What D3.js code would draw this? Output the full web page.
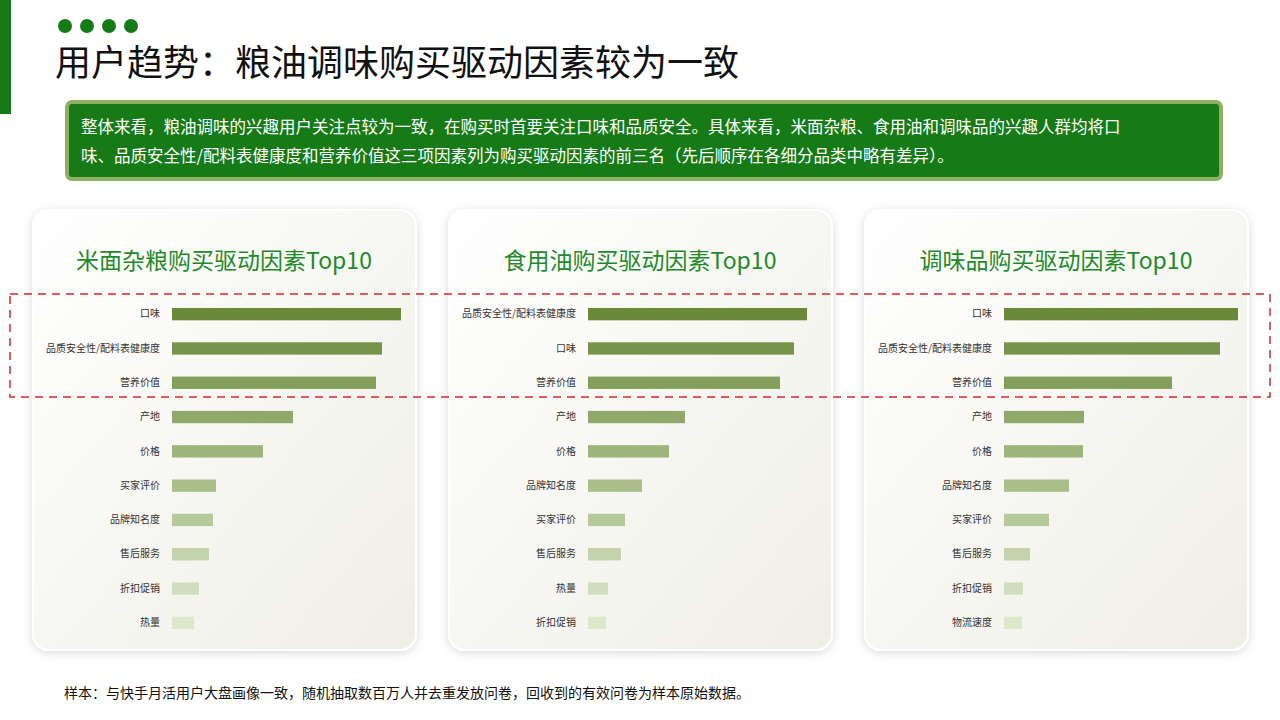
<!DOCTYPE html>
<html lang="zh">
<head>
<meta charset="UTF-8">
<script src="https://d3js.org/d3.v7.min.js"></script>
<style>
  body { margin: 0; background: #fff; font-family: "Noto Sans CJK SC", "Noto Sans", sans-serif; }
</style>
</head>
<body>
<script>
  var titles = ["米面杂粮购买驱动因素Top10", "食用油购买驱动因素Top10", "调味品购买驱动因素Top10"];
  var cats1 = ["口味", "品质安全性/配料表健康度", "营养价值", "产地", "价格", "买家评价", "品牌知名度", "售后服务", "折扣促销", "热量"];
  var vals1 = [229, 210, 204, 121, 91, 44, 41, 37, 27, 22];
  var cats2 = ["品质安全性/配料表健康度", "口味", "营养价值", "产地", "价格", "品牌知名度", "买家评价", "售后服务", "热量", "折扣促销"];
  var vals2 = [219, 206, 192, 97, 81, 54, 37, 33, 20, 18];
  var cats3 = ["口味", "品质安全性/配料表健康度", "营养价值", "产地", "价格", "品牌知名度", "买家评价", "售后服务", "折扣促销", "物流速度"];
  var vals3 = [234, 216, 168, 80, 79, 65, 45, 26, 19, 18];
  var panels = [[cats1, vals1], [cats2, vals2], [cats3, vals3]];

  var W = 1280, H = 720;
  var svg = d3.select("body").append("svg").attr("width", W).attr("height", H);
  var defs = svg.append("defs");
  var grad = defs.append("linearGradient").attr("id", "cardg").attr("x1", 0).attr("y1", 0).attr("x2", 1).attr("y2", 1);
  grad.append("stop").attr("offset", "0%").attr("stop-color", "#ffffff");
  grad.append("stop").attr("offset", "100%").attr("stop-color", "#efeee6");
  var sh = defs.append("filter").attr("id", "shadow").attr("x", "-10%").attr("y", "-10%").attr("width", "120%").attr("height", "120%");
  sh.append("feDropShadow").attr("dx", 0).attr("dy", 2).attr("stdDeviation", 5).attr("flood-color", "#000").attr("flood-opacity", 0.15);

  // header
  svg.append("rect").attr("x", 0).attr("y", 0).attr("width", 11).attr("height", 114).attr("fill", "#167a16");
  [65, 87, 109, 131].forEach(function(cx) {
    svg.append("circle").attr("cx", cx).attr("cy", 26).attr("r", 7).attr("fill", "#167a16");
  });
  svg.append("text").attr("x", 55).attr("y", 76).attr("font-size", 36).attr("fill", "#111")
    .text("用户趋势：粮油调味购买驱动因素较为一致");

  svg.append("rect").attr("x", 67).attr("y", 102).attr("width", 1154).attr("height", 77).attr("rx", 5)
    .attr("fill", "#167a16").attr("stroke", "#8fb060").attr("stroke-width", 4);
  var desc = ["整体来看，粮油调味的兴趣用户关注点较为一致，在购买时首要关注口味和品质安全。具体来看，米面杂粮、食用油和调味品的兴趣人群均将口",
              "味、品质安全性/配料表健康度和营养价值这三项因素列为购买驱动因素的前三名（先后顺序在各细分品类中略有差异）。"];
  desc.forEach(function(t, i) {
    svg.append("text").attr("x", 81).attr("y", 133 + i * 29).attr("font-size", 16.5).attr("fill", "#fff").text(t);
  });

  var color = d3.scaleLinear().domain([0, 9]).range(["#6a8a3a", "#dce8cc"]).interpolate(d3.interpolateRgb);

  panels.forEach(function(p, k) {
    var cx = 33 + k * 416;
    var g = svg.append("g").attr("transform", "translate(" + cx + ",210)");
    g.append("rect").attr("width", 383).attr("height", 440).attr("rx", 16)
      .attr("fill", "url(#cardg)").attr("stroke", "#fff").attr("stroke-width", 2).attr("filter", "url(#shadow)");
    g.append("text").attr("x", 191).attr("y", 59).attr("text-anchor", "middle").attr("font-size", 23)
      .attr("fill", "#1f8a2a").text(titles[k]);

    var x = d3.scaleLinear().domain([0, 240]).range([0, 240]);
    var y = d3.scaleBand().domain(p[0]).range([87, 430]).paddingInner(0.64).paddingOuter(0.32);
    var plot = g.append("g").attr("transform", "translate(139,0)");
    plot.selectAll("rect").data(p[1]).enter().append("rect")
      .attr("x", 0).attr("y", function(d, i) { return y(p[0][i]); })
      .attr("width", function(d) { return x(d); }).attr("height", y.bandwidth())
      .attr("fill", function(d, i) { return color(i); });
    var ax = plot.append("g").call(d3.axisLeft(y).tickSize(0).tickPadding(12));
    ax.select(".domain").remove();
    ax.selectAll("text").attr("font-size", 10).attr("fill", "#333")
      .attr("font-family", "'Noto Sans CJK SC', sans-serif");
  });

  svg.append("rect").attr("x", 10).attr("y", 294).attr("width", 1260).attr("height", 103)
    .attr("fill", "none").attr("stroke", "#d42a2a").attr("stroke-width", 1.5).attr("stroke-dasharray", "8,6");

  svg.append("text").attr("x", 64).attr("y", 698).attr("font-size", 14).attr("fill", "#111")
    .text("样本：与快手月活用户大盘画像一致，随机抽取数百万人并去重发放问卷，回收到的有效问卷为样本原始数据。");
</script>
</body>
</html>
